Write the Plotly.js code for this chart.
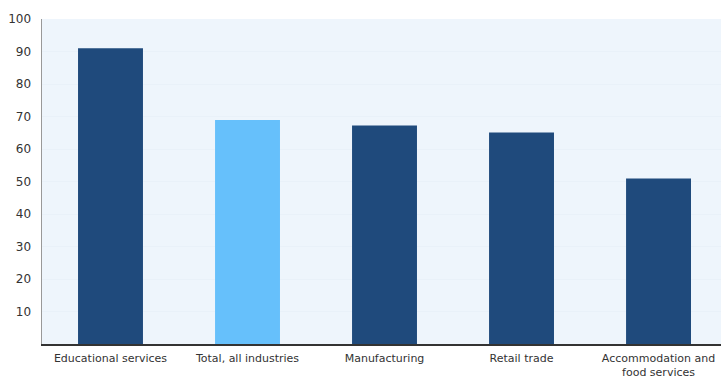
<!DOCTYPE html>
<html>
<head>
<meta charset="utf-8">
<script src="https://cdn.plot.ly/plotly-3.0.1.min.js"></script>
<style>html,body{margin:0;padding:0;background:#fff;}#chart{width:721px;height:379px;}</style>
</head>
<body>
<div id="chart"></div>
<script>
const categories = ["Educational services", "Total, all industries", "Manufacturing", "Retail trade", "Accommodation and<br>food services"];
const values = [91.0, 68.9, 67.2, 65.1, 50.9];
const barColors = ["#1f4a7c", "#66c0fb", "#1f4a7c", "#1f4a7c", "#1f4a7c"];
const yTicks = [10, 20, 30, 40, 50, 60, 70, 80, 90, 100];

Plotly.newPlot("chart", [{
  type: "bar",
  x: categories,
  y: values,
  marker: {color: barColors, line: {width: 0}},
  hoverinfo: "skip"
}], {
  width: 721, height: 379,
  margin: {l: 42, r: 0, t: 19, b: 35, pad: 0},
  paper_bgcolor: "#ffffff",
  plot_bgcolor: "#eef5fc",
  bargap: 0.526,
  showlegend: false,
  font: {family: "DejaVu Sans", size: 11, color: "#333"},
  xaxis: {
    type: "category",
    range: [-0.5, 4.456],
    showline: true, linecolor: "#333", linewidth: 1.5,
    showgrid: false, ticks: "", zeroline: false,
    ticklabelstandoff: 3,
    tickfont: {family: "DejaVu Sans", size: 11, color: "#333"},
    fixedrange: true
  },
  yaxis: {
    range: [0, 100],
    tickvals: yTicks,
    ticktext: yTicks.map(String),
    showline: true, linecolor: "#999", linewidth: 1.5,
    showgrid: true, gridcolor: "#e9f1f9", gridwidth: 1,
    zeroline: false, ticks: "",
    ticklabelstandoff: 7,
    tickfont: {family: "DejaVu Sans", size: 12, color: "#333"},
    fixedrange: true
  }
}, {displayModeBar: false, staticPlot: true});
</script>
</body>
</html>
